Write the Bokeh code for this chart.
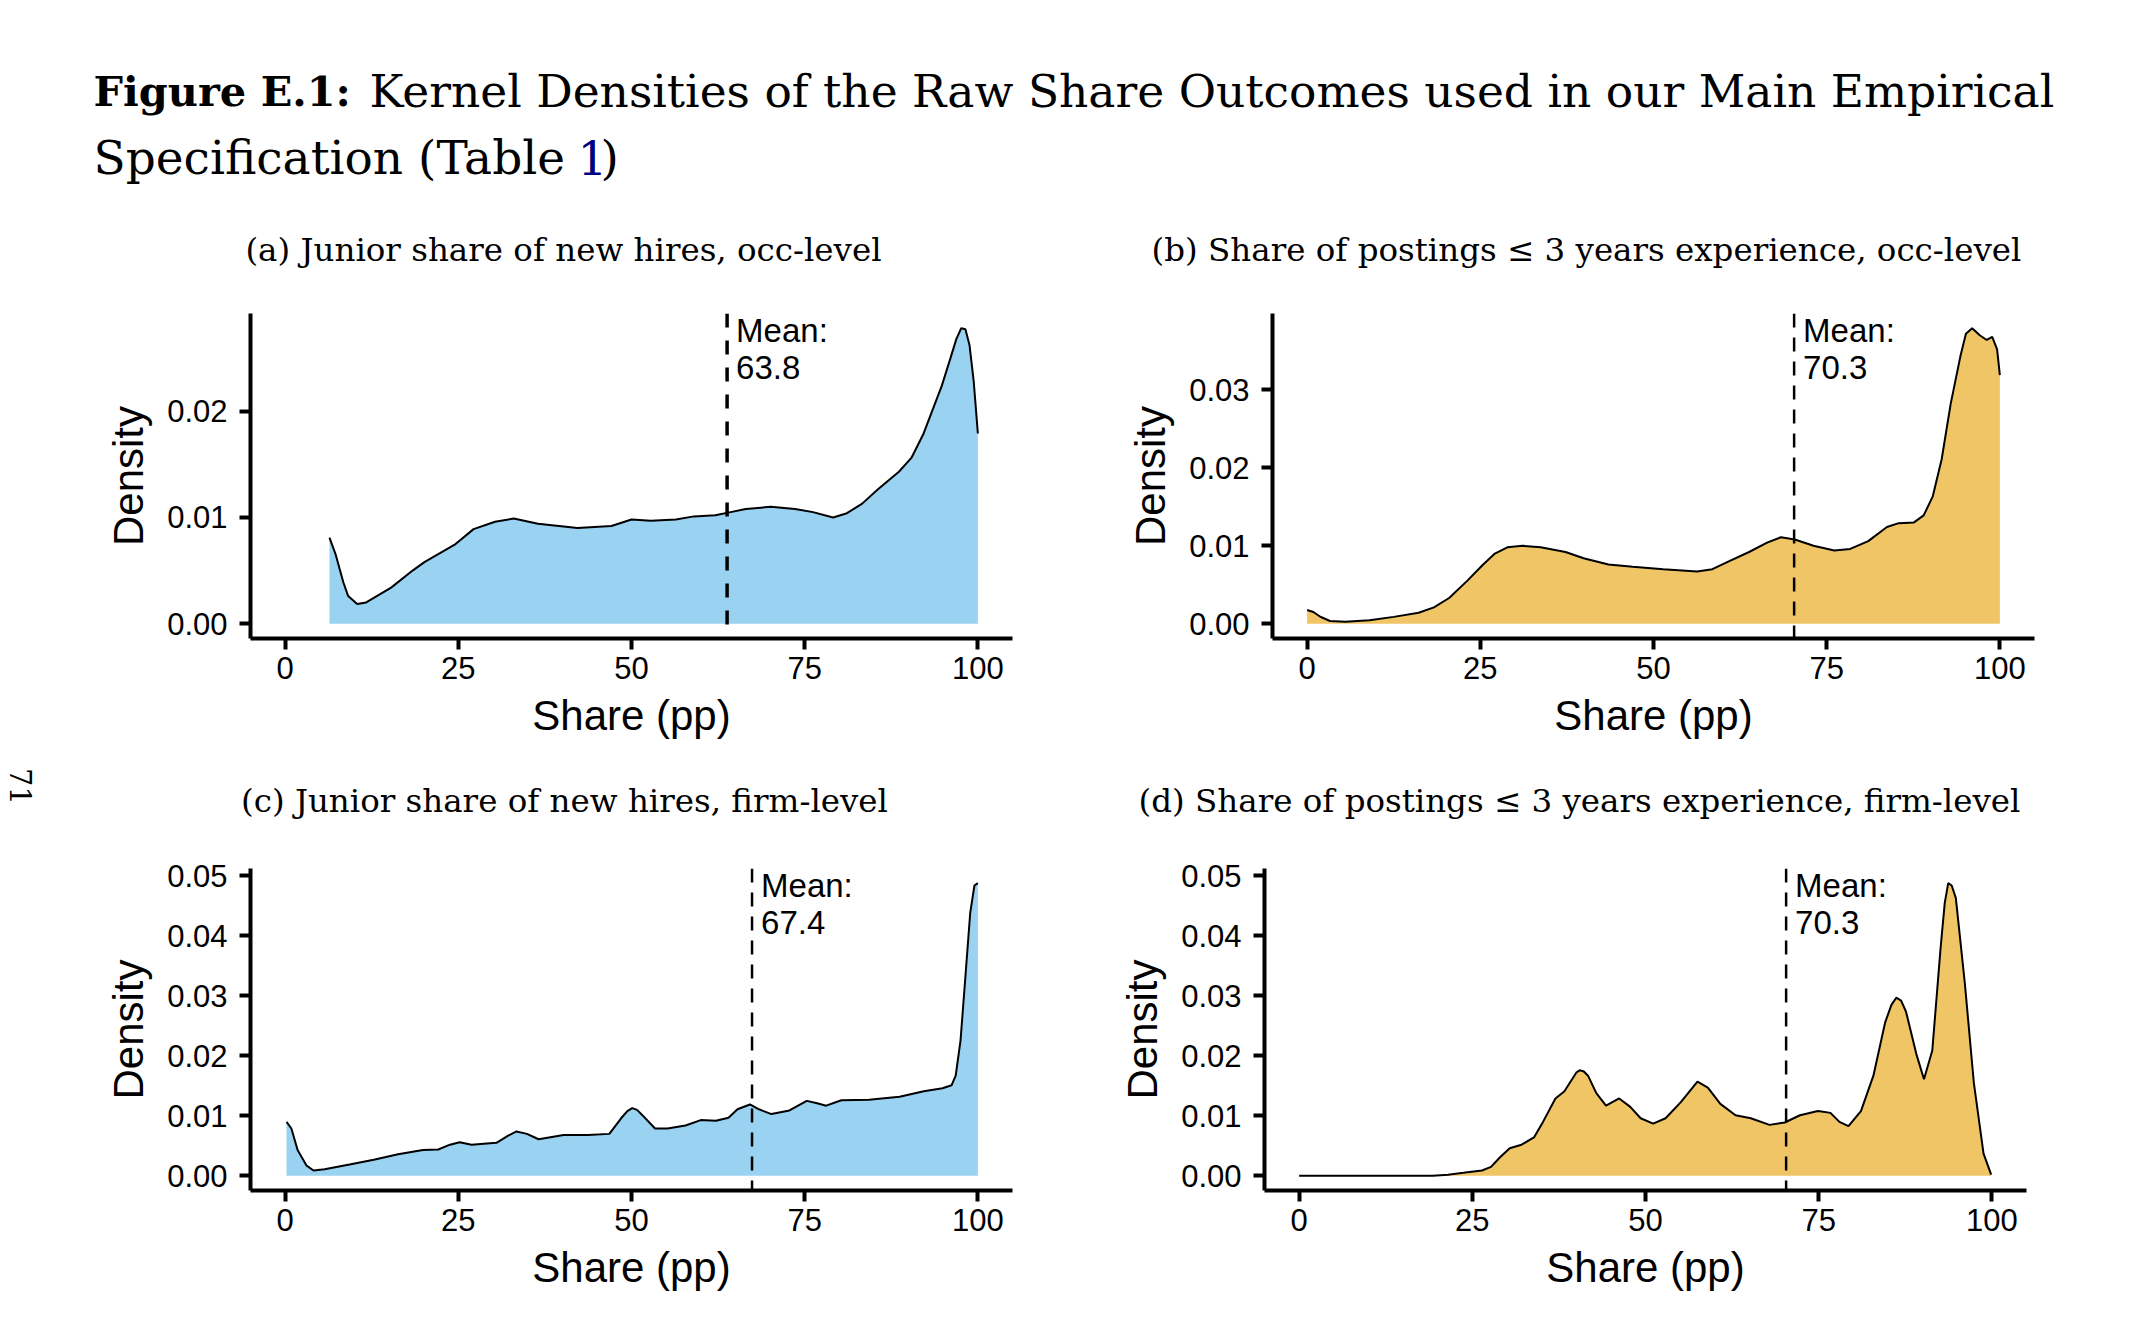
import math
from bokeh.plotting import figure
from bokeh.layouts import column, row
from bokeh.models import Range1d, FixedTicker, PrintfTickFormatter, Span
from bokeh.embed import file_html
from bokeh.resources import INLINE
from bokeh.core.properties import value

# ---------------- data ----------------
x_ticks = [0, 25, 50, 75, 100]

# (a) Junior share of new hires, occ-level
a_x = [6.4, 7.3, 8.4, 9.1, 10.4, 11.7, 15.3, 18.4, 20.1, 24.6, 27.2, 30.3, 33.0, 36.5,
       42.2, 47.1, 50.0, 52.8, 56.4, 59.0, 62.1, 64.3, 66.5, 70.1, 73.6, 76.2, 79.1,
       81.1, 83.3, 85.5, 88.6, 90.4, 92.1, 94.8, 96.0, 96.9, 97.6, 98.2, 98.8, 99.4, 100.0]
a_y = [0.0081, 0.0065, 0.0039, 0.0026, 0.00185, 0.0020, 0.0034, 0.0050, 0.0058, 0.0075,
       0.0089, 0.0096, 0.0099, 0.0094, 0.0090, 0.0092, 0.0098, 0.0097, 0.0098, 0.0101,
       0.0102, 0.0105, 0.0108, 0.0110, 0.0108, 0.0105, 0.0100, 0.0104, 0.0113, 0.0126,
       0.0143, 0.0156, 0.0178, 0.0224, 0.0249, 0.0268, 0.0278, 0.0277, 0.0262, 0.0228, 0.0179]

# (b) Share of postings <= 3 years experience, occ-level
b_x = [0.0, 0.9, 1.9, 3.3, 5.5, 9.0, 12.5, 16.1, 18.3, 20.5, 23.1, 25.3, 27.1, 28.9, 31.1,
       33.7, 37.3, 39.9, 43.5, 47.0, 51.4, 56.3, 58.5, 61.1, 63.8, 66.4, 68.4, 70.4, 73.1,
       76.1, 78.4, 81.0, 83.7, 85.4, 87.6, 89.0, 90.3, 91.6, 92.9, 94.3, 95.1, 96.0, 97.1,
       98.1, 98.9, 99.6, 100.0]
b_y = [0.00176, 0.0015, 0.0009, 0.00035, 0.00026, 0.00044, 0.00088, 0.0014, 0.0021, 0.0033,
       0.0055, 0.0075, 0.0090, 0.0098, 0.0100, 0.0098, 0.0092, 0.0084, 0.0076, 0.0073,
       0.0070, 0.0067, 0.0070, 0.0081, 0.0092, 0.0104, 0.0111, 0.0108, 0.0100, 0.0094,
       0.0096, 0.0106, 0.0124, 0.0129, 0.0130, 0.0139, 0.0163, 0.0211, 0.0282, 0.0343,
       0.0372, 0.0379, 0.0370, 0.0364, 0.0368, 0.0352, 0.0319]

# (c) Junior share of new hires, firm-level
c_x = [0.2, 0.9, 1.8, 3.1, 4.1, 5.7, 9.3, 12.8, 16.3, 19.9, 22.1, 23.8, 25.2, 26.9, 30.5,
       32.2, 33.4, 34.9, 36.6, 40.2, 43.7, 46.8, 48.5, 49.4, 50.1, 50.8, 51.5, 53.4, 55.2,
       57.8, 60.0, 62.2, 64.0, 65.3, 67.1, 68.4, 70.2, 72.8, 75.3, 76.8, 78.1, 80.3, 84.3,
       88.7, 92.2, 94.9, 96.2, 96.8, 97.5, 98.2, 98.9, 99.5, 100.0]
c_y = [0.0090, 0.0079, 0.0043, 0.0017, 0.0009, 0.0011, 0.0019, 0.0027, 0.0036, 0.0043,
       0.0044, 0.0052, 0.0056, 0.0052, 0.0055, 0.0067, 0.0074, 0.0070, 0.0061, 0.0068,
       0.0068, 0.0070, 0.0096, 0.0108, 0.0113, 0.0110, 0.0102, 0.0079, 0.0079, 0.0084,
       0.0093, 0.0092, 0.0097, 0.0111, 0.0119, 0.0111, 0.0103, 0.0109, 0.0125, 0.0121,
       0.0117, 0.0126, 0.0127, 0.0132, 0.0141, 0.0146, 0.0151, 0.0167, 0.0226, 0.0332,
       0.0439, 0.0484, 0.0488]

# (d) Share of postings <= 3 years experience, firm-level
d_x = [0.0, 19.3, 21.5, 23.7, 26.4, 27.7, 29.0, 30.4, 32.1, 33.9, 35.2, 37.0, 38.3, 39.4,
       40.0, 40.5, 41.1, 41.7, 42.9, 44.3, 46.2, 47.8, 49.3, 51.1, 52.9, 55.1, 57.5, 59.0,
       60.8, 63.0, 65.2, 67.9, 70.1, 72.3, 74.9, 76.7, 78.0, 79.3, 81.1, 82.9, 84.6, 85.5,
       86.2, 86.9, 87.6, 89.1, 90.2, 91.4, 92.6, 93.2, 93.7, 94.2, 94.8, 96.1, 97.4, 98.8,
       99.9]
d_y = [0.0, 0.0, 0.0002, 0.0005, 0.0009, 0.0015, 0.0031, 0.0046, 0.0052, 0.0064, 0.0090,
       0.0129, 0.0141, 0.0161, 0.0172, 0.0176, 0.0174, 0.0167, 0.0138, 0.0117, 0.0129,
       0.0115, 0.0096, 0.0087, 0.0096, 0.0123, 0.0157, 0.0147, 0.0120, 0.0101, 0.0096,
       0.0085, 0.0089, 0.0101, 0.0108, 0.0105, 0.0090, 0.0083, 0.0108, 0.0167, 0.0256,
       0.0285, 0.0297, 0.0292, 0.0274, 0.0203, 0.0161, 0.0209, 0.0380, 0.0455, 0.0488,
       0.0484, 0.0463, 0.0321, 0.0155, 0.0037, 0.0002]

mean_values = [63.8, 70.3, 67.4, 70.3]
y_ticks_a = [0.00, 0.01, 0.02]
y_ticks_b = [0.00, 0.01, 0.02, 0.03]
y_ticks_c = [0.00, 0.01, 0.02, 0.03, 0.04, 0.05]
y_ticks_d = [0.00, 0.01, 0.02, 0.03, 0.04, 0.05]

panel_titles = [
    "(a) Junior share of new hires, occ-level",
    "(b) Share of postings \u2264 3 years experience, occ-level",
    "(c) Junior share of new hires, firm-level",
    "(d) Share of postings \u2264 3 years experience, firm-level",
]
title_bold = "Figure E.1:"
title_rest = "Kernel Densities of the Raw Share Outcomes used in our Main Empirical"
title_line2 = "Specification (Table "
title_ref = "1"
title_close = ")"
page_number = "71"

# ---------------- styles ----------------
BLUE = "#9AD2F2"
ORANGE = "#F0C566"
SANS = "Liberation Sans"
SERIF = "DejaVu Serif"


def text_fig(w, h):
    p = figure(width=w, height=h, x_range=Range1d(0, w), y_range=Range1d(h, 0),
               output_backend="svg", toolbar_location=None,
               x_axis_location=None, y_axis_location=None, min_border=0)
    p.outline_line_color = None
    p.xgrid.visible = False
    p.ygrid.visible = False
    p.background_fill_color = "white"
    p.border_fill_color = "white"
    return p


def density_panel(xs, ys, mean, yticks, fill, w, h, left, right, top, bottom,
                  dash_width, dash):
    ymax = max(ys)
    yr = Range1d(-0.05 * ymax, 1.05 * ymax)
    p = figure(width=w, height=h, x_range=Range1d(-5, 105), y_range=yr,
               min_border_left=left, min_border_right=right,
               min_border_top=top, min_border_bottom=bottom,
               output_backend="svg", toolbar_location=None)
    p.outline_line_color = None
    p.xgrid.visible = False
    p.ygrid.visible = False
    p.varea(x=xs, y1=[0] * len(xs), y2=ys, fill_color=fill)
    p.line(x=xs, y=ys, line_color="black", line_width=2)
    p.add_layout(Span(location=mean, dimension="height", line_color="black",
                      line_width=dash_width, line_dash=dash))
    p.text(x=[mean], y=[yr.end], text=["Mean:\n" + str(mean)], x_offset=9, y_offset=-2,
           text_align="left", text_baseline="top", text_font=value(SANS),
           text_font_size="33px", text_line_height=1.02, text_color="black")

    p.xaxis.ticker = FixedTicker(ticks=x_ticks)
    p.yaxis.ticker = FixedTicker(ticks=yticks)
    p.yaxis.formatter = PrintfTickFormatter(format="%.2f")
    p.xaxis.axis_label = "Share (pp)"
    p.yaxis.axis_label = "Density"
    for ax in (p.xaxis[0], p.yaxis[0]):
        ax.axis_line_width = 4
        ax.axis_line_color = "black"
        ax.major_tick_line_width = 4
        ax.major_tick_line_color = "black"
        ax.major_tick_out = 11
        ax.major_tick_in = 0
        ax.minor_tick_line_color = None
        ax.major_label_text_font = SANS
        ax.major_label_text_font_size = "31px"
        ax.major_label_text_color = "black"
        ax.axis_label_text_font = SANS
        ax.axis_label_text_font_size = "42px"
        ax.axis_label_text_font_style = "normal"
        ax.axis_label_text_color = "black"
    p.xaxis.major_label_standoff = 7
    p.yaxis.major_label_standoff = 12
    p.xaxis.axis_label_standoff = 10
    p.yaxis.axis_label_standoff = 12
    return p


# ---------------- title ----------------
title_fig = text_fig(2150, 200)
title_fig.text(x=[93], y=[91], text=[title_bold], text_font=value(SERIF),
               text_font_style="bold", text_font_size="41.5px", text_baseline="alphabetic",
               text_color="black")
title_fig.text(x=[369], y=[91], text=[title_rest], text_font=value(SERIF),
               text_font_size="45.5px", text_baseline="alphabetic", text_color="black")
title_fig.text(x=[93], y=[157], text=[title_line2], text_font=value(SERIF),
               text_font_size="47px", text_baseline="alphabetic", text_color="black")
title_fig.text(x=[577], y=[157], text=[title_ref], text_font=value(SERIF),
               text_font_size="47px", text_baseline="alphabetic", text_color="#000080")
title_fig.text(x=[600], y=[157], text=[title_close], text_font=value(SERIF),
               text_font_size="47px", text_baseline="alphabetic", text_color="black")

# ---------------- sub titles ----------------
def sub_fig(w, cx, base, label):
    p = text_fig(w, 100)
    p.text(x=[cx], y=[base], text=[label], text_font=value(SERIF), text_font_size="32.5px",
           text_align="center", text_baseline="alphabetic", text_color="black")
    return p

sub_a = sub_fig(1100, 563, 49, panel_titles[0])
sub_b = sub_fig(1050, 486, 49, panel_titles[1])
sub_c = sub_fig(1100, 564, 40, panel_titles[2])
sub_d = sub_fig(1050, 479, 40, panel_titles[3])
sub_c.text(x=[20], y=[26], text=[page_number], angle=-math.pi / 2, text_font=value(SERIF),
           text_font_size="29px", text_align="center", text_baseline="middle",
           text_color="black")

# ---------------- panels ----------------
fig_a = density_panel(a_x, a_y, mean_values[0], y_ticks_a, BLUE, 1100, 460, 250, 88, 13, 122,
                      3.5, "14 13")
fig_b = density_panel(b_x, b_y, mean_values[1], y_ticks_b, ORANGE, 1050, 460, 172, 116, 13, 122,
                      2.5, "14 10")
fig_c = density_panel(c_x, c_y, mean_values[2], y_ticks_c, BLUE, 1100, 480, 250, 88, 8, 150,
                      2.5, "14 10")
fig_d = density_panel(d_x, d_y, mean_values[3], y_ticks_d, ORANGE, 1050, 480, 164, 124, 8, 150,
                      2.5, "14 10")

layout = column(title_fig, row(sub_a, sub_b), row(fig_a, fig_b), row(sub_c, sub_d),
                row(fig_c, fig_d))

open("out.html", "w").write(file_html(layout, INLINE))
